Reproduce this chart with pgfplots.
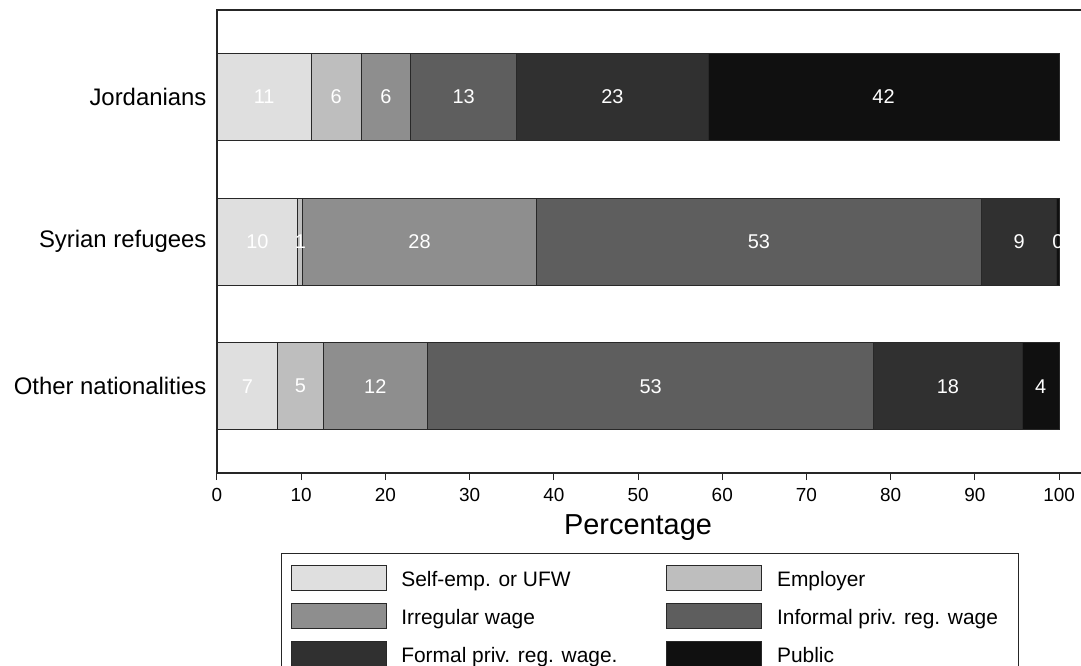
\documentclass[border=0pt]{standalone}
\usepackage{fontspec}
\setmainfont{Liberation Sans}
\usepackage{pgfplots}
\pgfplotsset{compat=1.18}
\usepackage{pgfplotstable}

\definecolor{c1}{RGB}{223,223,223}
\definecolor{c2}{RGB}{190,190,190}
\definecolor{c3}{RGB}{142,142,142}
\definecolor{c4}{RGB}{94,94,94}
\definecolor{c5}{RGB}{48,48,48}
\definecolor{c6}{RGB}{16,16,16}
\definecolor{edge}{RGB}{40,40,40}

\pgfplotstableread{
y se emp irr inf form pub
3 11.2 5.9 5.9 12.6 22.7 41.7
2 9.6 0.6 27.7 52.9 8.9 0.3
1 7.2 5.4 12.4 53.0 17.6 4.4
}\data

\pgfplotsset{
  myleg/.style={legend image code/.code={\draw[##1,draw=edge,line width=0.8bp] (0bp,-10.5bp) rectangle (95bp,14.5bp);}},
}

\begin{document}
\begin{tikzpicture}
\useasboundingbox (-217bp,-193bp) rectangle (864bp,473bp);
\begin{axis}[
  at={(0,0)}, anchor=south west,
  scale only axis, width=864bp, height=463bp,
  xbar stacked, bar width=87bp,
  xmin=0, xmax=102.6, ymin=0.4, ymax=3.6,
  ytick={1,2,3},
  yticklabels={Other nationalities, Syrian refugees, Jordanians},
  xtick={0,10,...,100},
  tick pos=left,
  ytick style={draw=none},
  xtick style={draw=black!85, line width=1bp},
  tick align=outside,
  major tick length=7bp,
  axis line style={draw=none},
  /pgf/number format/assume math mode=true,
  xticklabel style={font=\fontsize{19}{22}\selectfont, yshift=-5bp},
  yticklabel style={font=\fontsize{24}{28}\selectfont},
  xlabel={Percentage},
  xlabel style={font=\fontsize{29}{34}\selectfont, at={(axis description cs:0.4873,0)}, anchor=center, yshift=-55bp},
  nodes near coords={\pgfmathprintnumber[fixed,precision=0]{\pgfplotspointmeta}},
  every node near coord/.append style={anchor=center, text=white, font=\fontsize{20}{24}\selectfont},
  legend columns=2,
  legend cell align=left,
  legend style={at={(axis description cs:0.0741,0)}, anchor=north west, yshift=-80bp,
    draw=black!85, line width=1bp, inner xsep=9bp, inner ysep=11bp, row sep=12.5bp,
    font=\fontsize{21}{25}\selectfont,
    /tikz/every odd column/.append style={column sep=13bp},
    /tikz/every even column/.append style={column sep=33bp}},
  after end axis/.code={\draw[line width=1.2bp, black!85] (rel axis cs:1,1) -- (rel axis cs:0,1) -- (rel axis cs:0,0) -- (rel axis cs:1,0);},
]
\addplot[fill=c1, draw=edge, line width=0.8bp, myleg] table[x=se, y=y] {\data};
\addplot[fill=c2, draw=edge, line width=0.8bp, myleg] table[x=emp, y=y] {\data};
\addplot[fill=c3, draw=edge, line width=0.8bp, myleg] table[x=irr, y=y] {\data};
\addplot[fill=c4, draw=edge, line width=0.8bp, myleg] table[x=inf, y=y] {\data};
\addplot[fill=c5, draw=edge, line width=0.8bp, myleg] table[x=form, y=y] {\data};
\addplot[fill=c6, draw=edge, line width=0.8bp, myleg] table[x=pub, y=y] {\data};
\legend{\makebox[230bp][l]{Self-emp. or UFW}, \makebox[230bp][l]{Employer}, \makebox[230bp][l]{Irregular wage}, \makebox[230bp][l]{Informal priv. reg. wage}, \makebox[230bp][l]{Formal priv. reg. wage.}, \makebox[230bp][l]{Public}}
\end{axis}
\end{tikzpicture}
\end{document}
